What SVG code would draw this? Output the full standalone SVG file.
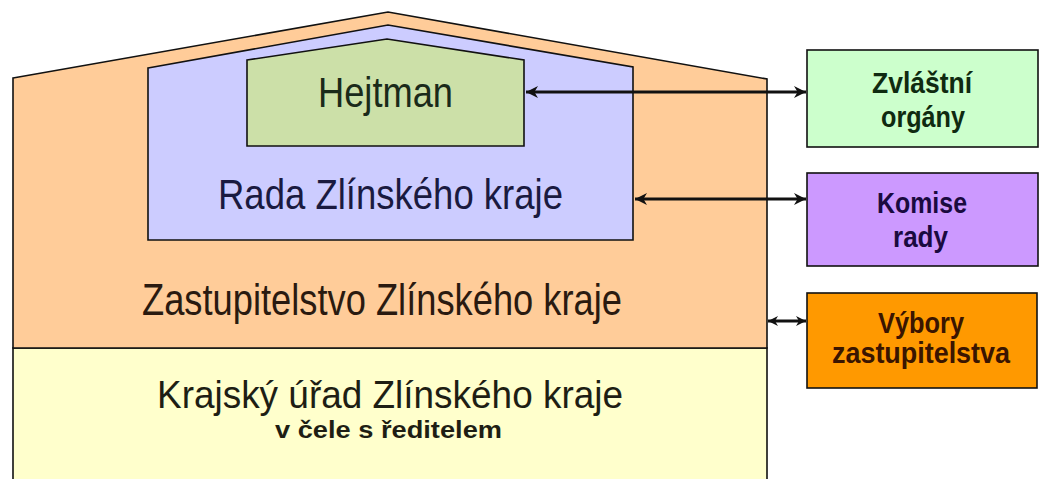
<svg xmlns="http://www.w3.org/2000/svg" width="1040" height="479" viewBox="0 0 1040 479">
  <style>
    .shape { stroke: #111; stroke-width: 1.6; stroke-linejoin: miter; }
    .big { font-family: "Liberation Sans", Arial, sans-serif; text-anchor: middle; }
    .side { font-family: "Liberation Sans", Arial, sans-serif; font-weight: bold; text-anchor: middle; font-size: 30px; }
    .conn { stroke: #111; stroke-width: 3; fill: none; }
  </style>
  <defs>
    <marker id="ah" viewBox="0 0 10 10" refX="10" refY="5" markerWidth="12" markerHeight="12" markerUnits="userSpaceOnUse" orient="auto-start-reverse">
      <path d="M0,0 L10,5 L0,10 L3,5 z" fill="#111"/>
    </marker>
    <marker id="ahs" viewBox="0 0 10 10" refX="10" refY="5" markerWidth="10" markerHeight="10" markerUnits="userSpaceOnUse" orient="auto-start-reverse">
      <path d="M0,0 L10,5 L0,10 L3,5 z" fill="#111"/>
    </marker>
  </defs>
  <rect width="1040" height="479" fill="#ffffff"/>

  <g id="urad">
    <rect class="shape" x="13" y="348" width="754" height="140" fill="#FFFFCC"/>
    <text class="big" x="390" y="408" font-size="38" fill="#1e1e14" textLength="466" lengthAdjust="spacingAndGlyphs">Krajský úřad Zlínského kraje</text>
    <text class="big" x="388.5" y="438" font-size="23" font-weight="bold" fill="#1e1e14" textLength="227" lengthAdjust="spacingAndGlyphs">v čele s ředitelem</text>
  </g>

  <g id="zastupitelstvo">
    <polygon class="shape" points="13,78 388,12 767,79 767,348 13,348" fill="#FFCC99"/>
    <text class="big" x="382" y="315" font-size="44" fill="#2a1a10" textLength="480" lengthAdjust="spacingAndGlyphs">Zastupitelstvo Zlínského kraje</text>
  </g>

  <g id="rada">
    <polygon class="shape" points="148,68 388,25 633,67 633,240 148,240" fill="#CCCCFF"/>
    <text class="big" x="390.5" y="209" font-size="42" fill="#1a1a40" textLength="345" lengthAdjust="spacingAndGlyphs">Rada Zlínského kraje</text>
  </g>

  <g id="hejtman">
    <polygon class="shape" points="247,60 387,39 524,60 524,146 247,146" fill="#CCE0A8"/>
    <text class="big" x="385.5" y="107" font-size="42" fill="#1a2a1a" textLength="135" lengthAdjust="spacingAndGlyphs">Hejtman</text>
  </g>

  <g id="zvlastni">
    <rect class="shape" x="807" y="50" width="231" height="97" fill="#CCFFCC"/>
    <text class="side" x="922" y="93" font-size="33" fill="#0f2a10" textLength="100" lengthAdjust="spacingAndGlyphs">Zvláštní</text>
    <text class="side" x="923" y="127" font-size="33" fill="#0f2a10" textLength="84" lengthAdjust="spacingAndGlyphs">orgány</text>
  </g>

  <g id="komise">
    <rect class="shape" x="807" y="173" width="231" height="93" fill="#CC99FF"/>
    <text class="side" x="922" y="213" fill="#1a0a40" textLength="90" lengthAdjust="spacingAndGlyphs">Komise</text>
    <text class="side" x="920.5" y="247" fill="#1a0a40" textLength="55" lengthAdjust="spacingAndGlyphs">rady</text>
  </g>

  <g id="vybory">
    <rect class="shape" x="807" y="293" width="230" height="95" fill="#FF9900"/>
    <text class="side" x="921" y="333" fill="#3a1500" textLength="86" lengthAdjust="spacingAndGlyphs">Výbory</text>
    <text class="side" x="921" y="363" fill="#3a1500" textLength="178" lengthAdjust="spacingAndGlyphs">zastupitelstva</text>
  </g>

  <g id="connectors">
    <line class="conn" x1="526" y1="92" x2="806" y2="92" marker-start="url(#ah)" marker-end="url(#ah)"/>
    <line class="conn" x1="635" y1="199" x2="806" y2="199" marker-start="url(#ah)" marker-end="url(#ah)"/>
    <line class="conn" x1="768" y1="321" x2="806" y2="321" marker-start="url(#ahs)" marker-end="url(#ahs)"/>
  </g>
</svg>
